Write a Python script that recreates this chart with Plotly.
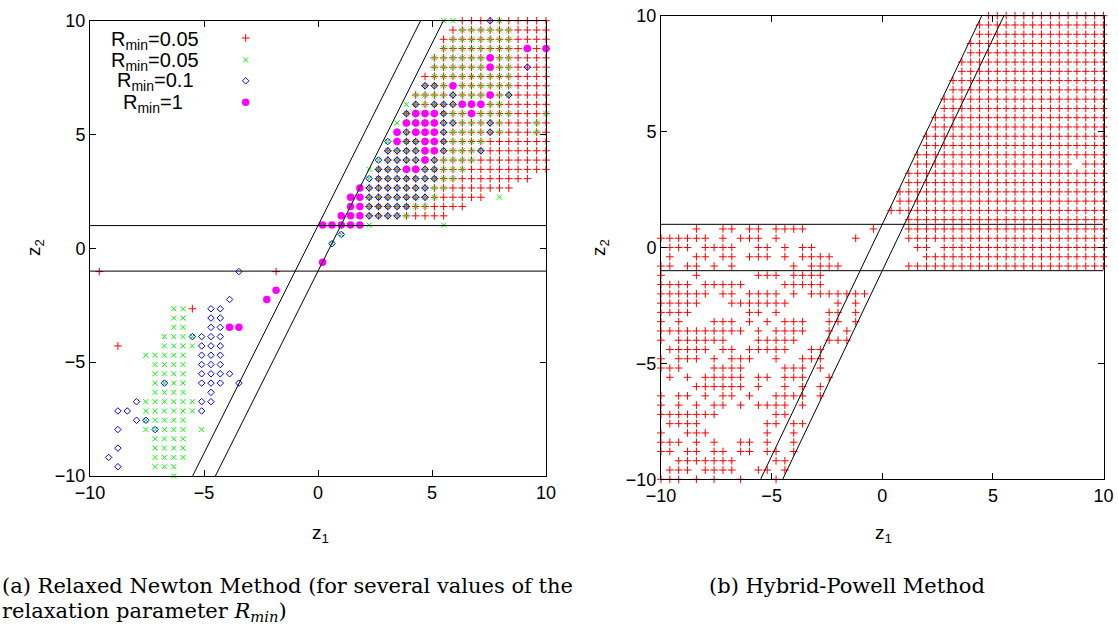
import numpy as np
import plotly.graph_objects as go

# ---------------- data ----------------
GRID_A = np.linspace(-10, 10, 50)   # left panel start grid (z1 and z2)
GRID_B = np.linspace(-10, 10, 51)   # right panel start grid (z1 and z2)

# Left panel: key = z2 grid index (0 -> -10 ... 49 -> 10), value = z1 grid index ranges
A_RED = {
    49: "40-49", 48: "39-49", 47: "38-49", 46: "38-49", 45: "37-49", 44: "37-49",
    43: "36-49", 42: "36-49", 41: "35-49", 40: "35-49", 39: "34-49", 38: "34-49",
    37: "33-49", 36: "33-49", 35: "32-49", 34: "32-49", 33: "31-49", 32: "31-47",
    31: "30-45", 30: "30-42", 29: "30-40", 28: "30-38",
    22: "1,20", 18: "11", 14: "3",
}
A_GREEN = {
    49: "38,39,44", 48: "40-45", 47: "39-45", 46: "38-45", 45: "37-45", 44: "37-45",
    43: "37-45", 42: "36-45", 41: "35-45", 40: "34-44", 39: "34-45,49", 38: "33-44,48",
    37: "33-44,48", 36: "32-42", 35: "32-42", 34: "31-41", 33: "30-40", 32: "30-39",
    31: "30-38", 30: "30-37,44", 29: "30-36", 28: "30-34", 27: "30,38", 26: "27", 25: "26",
    18: "9,10", 17: "9,10", 16: "9,10", 15: "8-11", 14: "8-11", 13: "6-10",
    12: "7-10", 11: "7-10", 10: "7-10", 9: "7-10", 8: "6-11", 7: "6-11",
    6: "6-10", 5: "6-10,12", 4: "7-10", 3: "7-10", 2: "7-10", 1: "7-9", 0: "9",
}
A_BLUE = {
    49: "43", 44: "47", 42: "36,37", 41: "39,45", 40: "35,37-39", 39: "34,38",
    38: "38,39,43", 37: "34,38,43", 36: "32,34,35,38", 35: "32-35,38,42",
    34: "31-35,37", 33: "31-33,36,37", 32: "30-37", 31: "30-36", 30: "30-36",
    29: "30-34", 28: "30-33", 26: "27", 25: "26",
    22: "16", 19: "15", 18: "13,14", 17: "13,14", 16: "13,14", 15: "11-14",
    14: "12-14", 13: "12-14", 12: "12-14", 11: "12-15", 10: "8,12-14,16",
    9: "13", 8: "5,12,13", 7: "3,4,12", 6: "5,6", 5: "3,7", 3: "3", 2: "2", 1: "3",
}
A_MAGENTA = {
    46: "47,49", 45: "43", 44: "43", 42: "39", 41: "43", 40: "40-42",
    39: "35-37,41", 38: "34-37", 37: "33,35-37", 36: "33,36,37", 35: "36,37",
    34: "36", 33: "34,35", 31: "29", 30: "28,29", 29: "28,29", 28: "27-29",
    27: "25-29", 23: "25", 20: "20", 19: "19", 16: "15,16",
}

# Right panel: key = row from the top (0 -> z2=10 ... 50 -> z2=-10), value = z1 grid index ranges
B_RED = {
    0: "37-50", 1: "36-50", 2: "36-50", 3: "35-50", 4: "35-50", 5: "34-50",
    6: "34-50", 7: "33-50", 8: "33-50", 9: "32-50", 10: "32-50", 11: "31-50",
    12: "31-50", 13: "30-50", 14: "30-50", 15: "29-50", 16: "29-46,48-50",
    17: "28-50", 18: "28-50", 19: "27-50", 20: "27-50", 21: "26-50", 22: "28-50",
    23: "4,7,8,10,11,13-16,24,28-50",
    24: "0-5,7,9-11,13,22,28-50",
    25: "1-3,5-8,11,12,14,16,17,29,30,32-50",
    26: "1,4,5,7,8,10-12,14,16-19,30-50",
    27: "0,1,3,4,6,8,15,17-20,28-50",
    28: "0,4,11-13,15-18",
    29: "0-3,5-9,14-18",
    30: "0-5,7,8,10-13,15,17-23",
    31: "0-4,8-14,20,22",
    32: "0-3,10,11,13,19,20,22",
    33: "0,2,6-8,10,12,14-16,19,20,22",
    34: "0-9,11,13-16,19,21",
    35: "0,2-7,11-15,19-21",
    36: "1-5,7,8,10-14,17,18",
    37: "0,2-4,6,8-10,13,16-18",
    38: "0-2,6-9,14-16,18",
    39: "1,3,5-9,11,12,14-16,19",
    40: "4-9,11,14,16,18",
    41: "0,2,3,5,7,8,10,13-16,18",
    42: "0,2,4,6,7,9,11-14,16",
    43: "0-6,13,14",
    44: "1-4,12,13,15,16",
    45: "0,3-5,12,15",
    46: "0-2,4,6,9,10,12,15",
    47: "0,1,3,4,6,7,9,10,12,13,15",
    48: "2-8,13,14",
    49: "1-3,5-8,11,12,14",
    50: "0-2,4,6,9,13",
}

LEGEND_LABELS = ["R<sub>min</sub>=0.05", "R<sub>min</sub>=0.05", "R<sub>min</sub>=0.1", "R<sub>min</sub>=1"]
TICKS = [-10, -5, 0, 5, 10]
LINE_Z2 = [-10.0, 10.0]      # extent of the boundary lines z2 = 2 z1 +/- 1
BAND_Z2 = [-1.0, 1.0]        # horizontal lines
CAPTION_A = ["(a) Relaxed Newton Method (for several values of the",
             "relaxation parameter <i>R<sub>min</sub></i>)"]
CAPTION_B = "(b) Hybrid-Powell Method"


# ---------------- helpers ----------------
def parse(spec):
    out = []
    for part in spec.split(","):
        if "-" in part:
            a, b = part.split("-")
            out.extend(range(int(a), int(b) + 1))
        else:
            out.append(int(part))
    return out


def pts_a(rows):
    xs, ys = [], []
    for j, spec in rows.items():
        for k in parse(spec):
            xs.append(GRID_A[k]); ys.append(GRID_A[j])
    return xs, ys


def pts_b(rows):
    xs, ys = [], []
    n = len(GRID_B) - 1
    for r, spec in rows.items():
        for c in parse(spec):
            xs.append(GRID_B[c]); ys.append(GRID_B[n - r])
    return xs, ys


W, H = 1118, 625
def px(x): return x / W
def py(y): return 1 - y / H

fig = go.Figure()

series = [
    (A_RED, dict(symbol="cross-thin", size=5.5, color="#ff0000", line=dict(width=1, color="#ff0000"))),
    (A_GREEN, dict(symbol="x-thin", size=5, color="#00ff00", line=dict(width=1, color="#00ff00"))),
    (A_BLUE, dict(symbol="diamond-open", size=5, color="#0000ff", line=dict(width=1, color="#0000ff"))),
    (A_MAGENTA, dict(symbol="circle", size=7.5, color="#ff00ff", line=dict(width=0))),
]
for rows, mk in series:
    xs, ys = pts_a(rows)
    fig.add_trace(go.Scatter(x=xs, y=ys, mode="markers", marker=mk, cliponaxis=False,
                             showlegend=False, xaxis="x", yaxis="y"))

xs, ys = pts_b(B_RED)
fig.add_trace(go.Scatter(x=xs, y=ys, mode="markers", cliponaxis=False, showlegend=False,
                         marker=dict(symbol="cross-thin", size=5.5, color="#ff0000",
                                     line=dict(width=1, color="#ff0000")),
                         xaxis="x2", yaxis="y2"))

# boundary lines
for xa, ya in (("x", "y"), ("x2", "y2")):
    for off in (-1, 1):
        z2 = np.array(LINE_Z2)
        fig.add_trace(go.Scatter(x=(z2 + off) / 2, y=z2, mode="lines",
                                 line=dict(color="black", width=1), showlegend=False,
                                 xaxis=xa, yaxis=ya, hoverinfo="skip"))
    for b in BAND_Z2:
        fig.add_trace(go.Scatter(x=[TICKS[0], TICKS[-1]], y=[b, b], mode="lines",
                                 line=dict(color="black", width=1), showlegend=False,
                                 xaxis=xa, yaxis=ya, hoverinfo="skip"))

# legend symbols (on an overlay axis in panel fractions)
leg_y = [0.962, 0.914, 0.868, 0.821]
for (rows, mk), yy in zip(series, leg_y):
    fig.add_trace(go.Scatter(x=[0.3414], y=[yy], mode="markers", marker=mk, cliponaxis=False,
                             showlegend=False, xaxis="x3", yaxis="y3", hoverinfo="skip"))

tickfont = dict(family="Liberation Sans, Arial, sans-serif", size=18, color="black")
axcommon = dict(range=[-10, 10], tickvals=TICKS, ticks="inside", ticklen=6, tickwidth=1,
                showline=True, linecolor="black", linewidth=1, mirror="ticks",
                showgrid=False, zeroline=False, tickfont=tickfont, tickcolor="black",
                automargin=False)

fig.update_layout(
    template="none",
    width=W, height=H, margin=dict(l=0, r=0, t=0, b=0, pad=0, autoexpand=False),
    paper_bgcolor="white", plot_bgcolor="white",
    xaxis=dict(domain=[px(90), px(546)], anchor="y", **axcommon),
    yaxis=dict(domain=[py(476), py(20.7)], anchor="x", **axcommon),
    xaxis2=dict(domain=[px(661), px(1103.5)], anchor="y2", **axcommon),
    yaxis2=dict(domain=[py(479.3), py(15.7)], anchor="x2", **axcommon),
    xaxis3=dict(domain=[px(90), px(546)], anchor="y3", range=[0, 1], visible=False,
                overlaying="x", automargin=False),
    yaxis3=dict(domain=[py(476), py(20.7)], anchor="x3", range=[0, 1], visible=False,
                overlaying="y", automargin=False),
    showlegend=False,
)

ann = []
sans = dict(family="Liberation Sans, Arial, sans-serif", size=19, color="black")
for xp in (320, 883):
    ann.append(dict(x=px(xp), y=py(534), xref="paper", yref="paper", text="z<sub>1</sub>",
                    xanchor="center", yanchor="middle", showarrow=False, font=sans))
for xp in (35, 600):
    ann.append(dict(x=px(xp), y=py(248), xref="paper", yref="paper", text="z<sub>2</sub>",
                    xanchor="center", yanchor="middle", showarrow=False, font=sans, textangle=-90))
legfont = dict(family="Liberation Sans, Arial, sans-serif", size=20, color="black")
for lab, lx, ly in zip(LEGEND_LABELS, [109, 109, 115, 121], [40, 61, 82, 103]):
    ann.append(dict(x=px(lx), y=py(ly), xref="paper", yref="paper", text=lab, xanchor="left",
                    yanchor="middle", showarrow=False, font=legfont))
serif = dict(family="DejaVu Serif, Liberation Serif, serif", size=21, color="black")
ann.append(dict(x=0, y=py(586), xref="paper", yref="paper", text=CAPTION_A[0], xanchor="left",
                yanchor="middle", showarrow=False, font=serif))
ann.append(dict(x=0, y=py(612), xref="paper", yref="paper", text=CAPTION_A[1], xanchor="left",
                yanchor="middle", showarrow=False, font=serif))
ann.append(dict(x=px(847), y=py(586), xref="paper", yref="paper", text=CAPTION_B,
                xanchor="center", yanchor="middle", showarrow=False, font=serif))
fig.update_layout(annotations=ann)

fig.write_html("out.html")
